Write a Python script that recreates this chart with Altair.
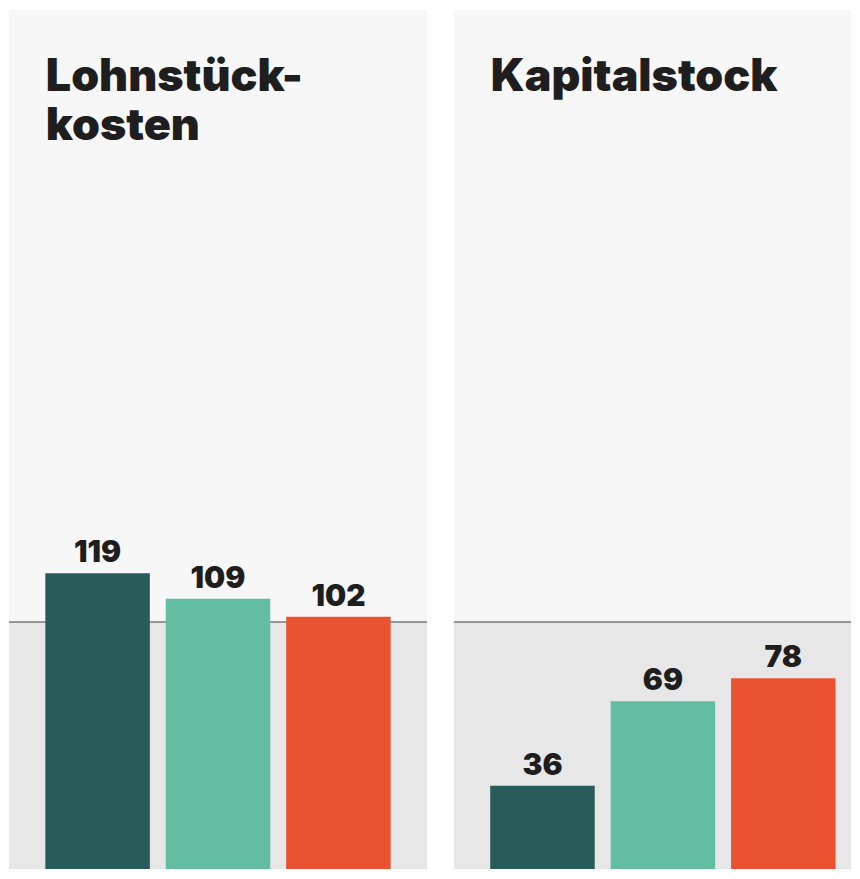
import altair as alt
import pandas as pd

categories = ["Reihe 1", "Reihe 2", "Reihe 3"]
lohn_values = [119, 109, 102]
kapital_values = [36, 69, 78]
titles = [["Lohnstück-", "kosten"], ["Kapitalstock"]]
colors = ["#285c5a", "#63bea1", "#e95331"]
reference_level = 100

FONT = "Inter"
H = 863
Y_MIN = 3.5
Y_MAX = 339


def panel(values, title_lines, width):
    df = pd.DataFrame({"cat": categories, "val": values})
    x = alt.X("cat:N", sort=categories, axis=None,
              scale=alt.Scale(range=[0, 420], paddingInner=0.1322, paddingOuter=0.3017))
    yscale = alt.Scale(domain=[Y_MIN, Y_MAX], nice=False, zero=False)

    lower = alt.Chart(pd.DataFrame({"lo": [0], "hi": [reference_level]})).mark_rect(
        color="#e7e7e7", clip=True
    ).encode(y=alt.Y("lo:Q", scale=yscale, axis=None), y2="hi:Q")

    rule = alt.Chart(pd.DataFrame({"r": [reference_level]})).mark_rule(
        color="#7a7a7a", strokeWidth=1.5
    ).encode(y=alt.Y("r:Q", scale=yscale, axis=None))

    bars = alt.Chart(df).mark_bar(clip=True).encode(
        x=x,
        y=alt.Y("val:Q", scale=yscale, axis=None),
        y2=alt.datum(0),
        color=alt.Color("cat:N", sort=categories,
                        scale=alt.Scale(domain=categories, range=colors), legend=None),
    )

    labels = alt.Chart(df).mark_text(
        font=FONT, fontWeight=900, fontSize=30, color="#1e1e1e",
        baseline="alphabetic", dy=-11,
    ).encode(
        x=x,
        y=alt.Y("val:Q", scale=yscale, axis=None),
        text=alt.Text("val:Q"),
    )

    title = alt.Chart(pd.DataFrame({"t": [title_lines]})).mark_text(
        font=FONT, fontWeight=900, fontSize=45, color="#1e1e1e",
        align="left", baseline="alphabetic", lineHeight=50,
    ).encode(x=alt.value(37), y=alt.value(81), text="t")

    return alt.layer(lower, rule, bars, labels, title).properties(
        width=width, height=H
    )


chart = alt.hconcat(
    panel(lohn_values, titles[0], 420),
    panel(kapital_values, titles[1], 399),
    spacing=25,
).properties(padding=0, background="white").configure_view(
    fill="#f7f7f7", strokeWidth=0
)

chart.save("out.html", embed_options={"renderer": "svg", "actions": False})
